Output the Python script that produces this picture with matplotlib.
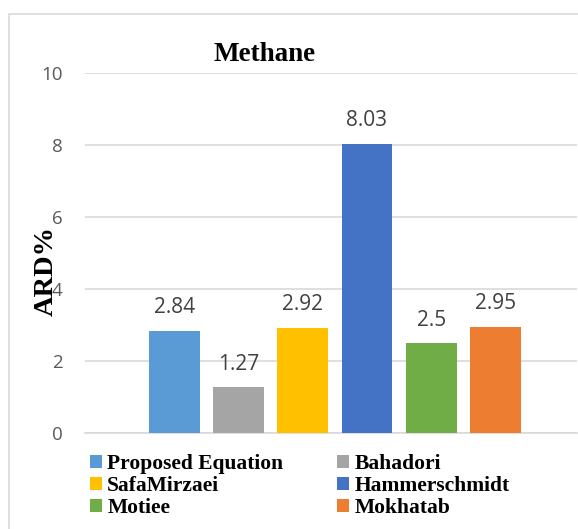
import matplotlib
matplotlib.use("Agg")
from matplotlib import pyplot as plt
from matplotlib.patches import Rectangle

methods = ["Proposed Equation", "Bahadori", "SafaMirzaei", "Hammerschmidt", "Motiee", "Mokhatab"]
ard = [2.84, 1.27, 2.92, 8.03, 2.5, 2.95]
labels = ["2.84", "1.27", "2.92", "8.03", "2.5", "2.95"]
colors = ["#5B9BD5", "#A5A5A5", "#FFC000", "#4472C4", "#70AD47", "#ED7D31"]
yticks = [0, 2, 4, 6, 8, 10]

serif = "Liberation Serif"
sans = "Open Sans"

fig = plt.figure(figsize=(5.78, 5.29), dpi=100)
fig.patches.append(Rectangle((8.5/578, -0.01), 1.0, 1 - 13.5/529 + 0.01, transform=fig.transFigure,
                             fill=False, edgecolor="#D9D9D9", linewidth=1.2))
ax = fig.add_axes([85/578, 1 - 433/529, 492/578, 360/529])

bars = []
for i, (m, v, c) in enumerate(zip(methods, ard, colors)):
    b = ax.bar(i, v, width=0.79, color=c, label=m, zorder=3)
    bars.append(b)
    ax.annotate(labels[i], (i, v), xytext=(0, 9), textcoords="offset points",
                ha="center", va="bottom", fontsize=15, family=sans, color="#404040")

ax.set_xlim(-1.39, 6.27)
ax.set_ylim(0, 10)
ax.set_yticks(yticks)
ax.set_yticklabels([str(t) for t in yticks], family=sans, fontsize=13.5, color="#595959")
ax.set_xticks([])
ax.tick_params(axis="y", length=0, pad=16)
ax.grid(axis="y", color="#D9D9D9", linewidth=1.2, zorder=0)
for s in ["top", "right", "left"]:
    ax.spines[s].set_visible(False)
ax.spines["bottom"].set_color("#D9D9D9")
ax.spines["bottom"].set_linewidth(1.2)

ax.set_ylabel("ARD%", family=serif, fontweight="bold", fontsize=20.5)
ax.yaxis.set_label_coords(-0.053, (433 - 271) / 360)

fig.text(265/578, 1 - 61/529, "Methane", family=serif, fontweight="bold", fontsize=19.5,
         ha="center", va="baseline")

# legend is filled row by row in the reference
order = [0, 2, 4, 1, 3, 5]
leg = fig.legend(handles=[bars[k] for k in order], labels=[methods[k] for k in order],
                 ncol=2, loc="upper left",
                 bbox_to_anchor=(90/578, 1 - 454/529), frameon=False,
                 prop={"family": serif, "weight": "bold", "size": 15.5},
                 handlelength=0.55, handleheight=0.55, handletextpad=0.25,
                 labelspacing=0.1, columnspacing=2.5, borderaxespad=0, borderpad=0)

fig.savefig("out.png", dpi=100)
